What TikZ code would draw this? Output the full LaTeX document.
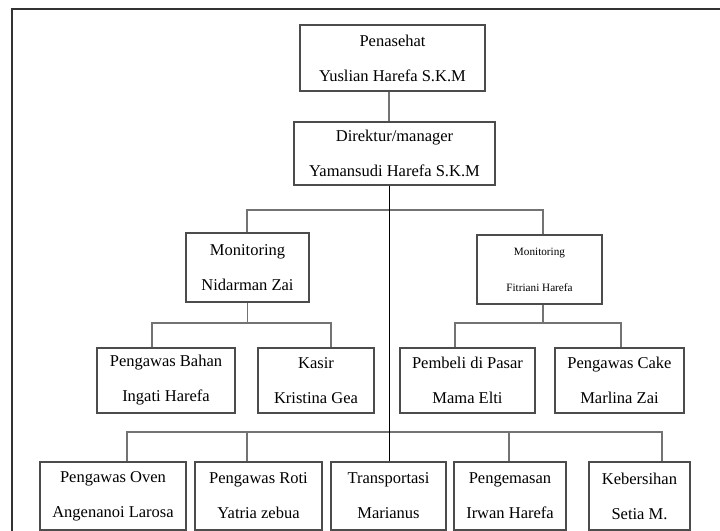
\documentclass[tikz,border=0pt]{standalone}
\usepackage{fontspec}
\setmainfont{Liberation Serif}
\usepackage{tikz}
\usetikzlibrary{positioning,calc}

\begin{document}
\begin{tikzpicture}[
  x=0.5pt, y=-0.5pt,
  box/.style={rectangle, draw=black!70, line width=0.6pt, fill=white,
              inner sep=0pt, align=center,
              font=\fontsize{8.25}{17.5}\selectfont},
  smallbox/.style={box, font=\fontsize{5.6}{18}\selectfont},
  link/.style={draw=black!55, line width=0.6pt},
  trunkline/.style={draw=black, line width=0.45pt}
]
\useasboundingbox (0,0) rectangle (720,531);
\clip (0,0) rectangle (720,531);
% outer frame
\draw[black!80, line width=1.3pt] (12,560) -- (12,9) -- (740,9);

% top levels
\node[box, minimum width=92.5pt, minimum height=33pt] (pen) at (392.5,58)
  {Penasehat\\Yuslian Harefa S.K.M};
\node[box, minimum width=100.5pt, minimum height=31.5pt] (dir) at (394.5,153.5)
  {Direktur/manager\\Yamansudi Harefa S.K.M};

% monitoring
\node[box, minimum width=61.5pt, minimum height=34.5pt] (monL) at (247.5,267.5)
  {Monitoring\\Nidarman Zai};
\node[smallbox, minimum width=62.5pt, minimum height=34.5pt] (monR) at (539.5,269.5)
  {Monitoring\\Fitriani Harefa};

% third level
\node[box, minimum width=69pt, minimum height=32.5pt] (bahan) at (166,380.5)
  {Pengawas Bahan\\Ingati Harefa};
\node[box, minimum width=58pt, minimum height=32.5pt] (kasir) at (316,380.5)
  {Kasir\\Kristina Gea};
\node[box, minimum width=67.5pt, minimum height=32.5pt] (pembeli) at (467.5,380.5)
  {Pembeli di Pasar\\Mama Elti};
\node[box, minimum width=64.5pt, minimum height=32.5pt] (cake) at (619.5,380.5)
  {Pengawas Cake\\Marlina Zai};

% bottom level
\node[box, minimum width=73pt, minimum height=34pt] (oven) at (113,496)
  {Pengawas Oven\\Angenanoi Larosa};
\node[box, minimum width=63.5pt, minimum height=34pt] (roti) at (258.5,496)
  {Pengawas Roti\\Yatria zebua};
\node[box, minimum width=57.5pt, minimum height=34pt] (trans) at (388.5,496)
  {Transportasi\\Marianus};
\node[box, minimum width=56pt, minimum height=34pt] (kemas) at (510,496)
  {Pengemasan\\Irwan Harefa};
\node[box, minimum width=50.5pt, minimum height=34pt] (bersih) at (639.5,496)
  {Kebersihan\\Setia M.};

% bar ends
\coordinate (trunk) at (389,0);
\coordinate (b1) at (247,210);
\coordinate (b2) at (543,210);
\coordinate (s1) at (152,323);
\coordinate (s2) at (331,323);
\coordinate (s3) at (455,323);
\coordinate (s4) at (621,323);
\coordinate (c1) at (127,432);
\coordinate (c2) at (247,432);
\coordinate (c4) at (509,432);
\coordinate (c5) at (662,432);

% connectors
\draw[link] (pen.south -| trunk) -- (dir.north -| trunk);
\draw[link] (monL.north -| b1) |- (b2) -- (monR.north -| b2);
\draw[link] (monL.south) -- (monL.south |- s1);
\draw[link] (bahan.north -| s1) |- (s2) -- (kasir.north -| s2);
\draw[link] (monR.south -| b2) -- (b2 |- s3);
\draw[link] (pembeli.north -| s3) |- (s4) -- (cake.north -| s4);
\draw[link] (oven.north -| c1) |- (c5) -- (bersih.north -| c5);
\draw[link] (roti.north -| c2) -- (c2);
\draw[link] (kemas.north -| c4) -- (c4);
\draw[trunkline] (dir.south -| trunk) -- (trans.north -| trunk);
\end{tikzpicture}
\end{document}
